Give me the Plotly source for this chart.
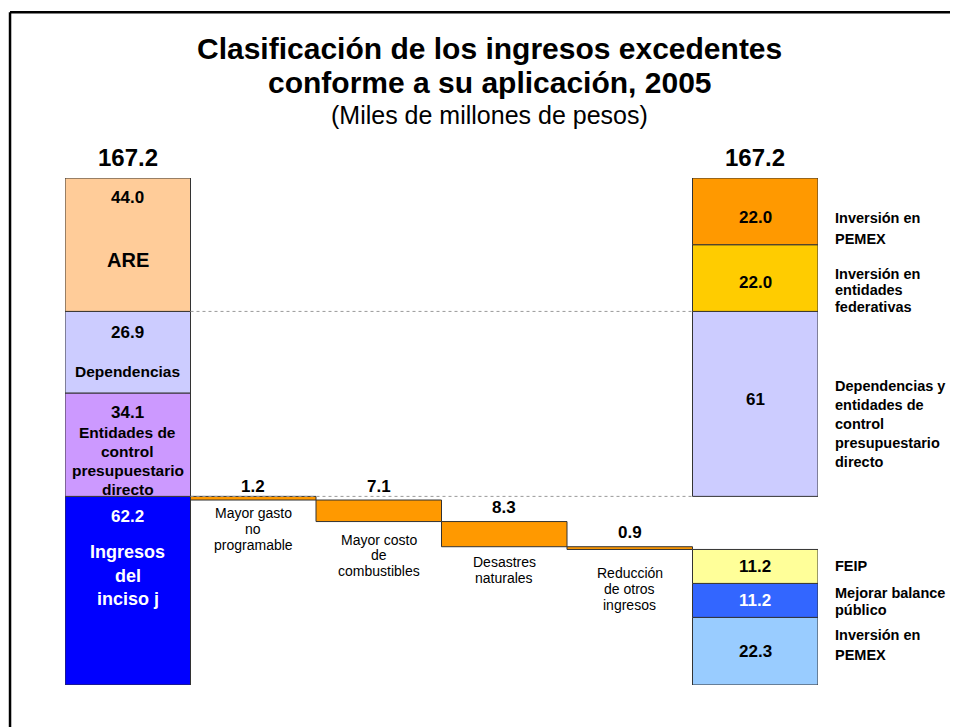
import plotly.graph_objects as go

# ---- data ----
left_names = ["Ingresos\ndel\ninciso j", "Entidades de\ncontrol\npresupuestario\ndirecto",
              "Dependencias", "ARE"]
left_values = [62.2, 34.1, 26.9, 44.0]
left_text = ["62.2", "34.1", "26.9", "44.0"]

step_names = ["Mayor gasto\nno\nprogramable", "Mayor costo\nde\ncombustibles",
              "Desastres\nnaturales", "Reducción\nde otros\ningresos"]
step_values = [1.2, 7.1, 8.3, 0.9]
step_text = ["1.2", "7.1", "8.3", "0.9"]

right_low_names = ["Inversión en\nPEMEX", "Mejorar balance\npúblico", "FEIP"]
right_low_values = [22.3, 11.2, 11.2]
right_low_text = ["22.3", "11.2", "11.2"]

right_up_names = ["Dependencias y\nentidades de\ncontrol\npresupuestario\ndirecto",
                  "Inversión en\nentidades\nfederativas", "Inversión en\nPEMEX"]
right_up_values = [61, 22.0, 22.0]
right_up_text = ["61", "22.0", "22.0"]

total_text = "167.2"

# ---- styles ----
FONT = "Liberation Sans, Arial, sans-serif"
left_colors = ['#0000FF', '#CC99FF', '#CCCCFF', '#FFCC99']
left_txt_colors = ['white', 'black', 'black', 'black']
step_color = '#FF9900'
right_low_colors = ['#99CCFF', '#3366FF', '#FFFF99']
right_low_txt_colors = ['black', 'white', 'black']
right_up_colors = ['#CCCCFF', '#FFCC00', '#FF9900']
OUTLINE = dict(color='#333333', width=1)


def cumbase(values, start=0.0):
    out, acc = [], start
    for v in values:
        out.append(acc)
        acc += v
    return out, acc


def add_lines(fig, x, y, text, dy0, spacing, size, color='black', bold=True,
              xanchor='center', xshift=0):
    for i, line in enumerate(text.split('\n')):
        t = f'<b>{line}</b>' if bold else line
        fig.add_annotation(x=x, y=y, xref='x', yref='y', text=t, showarrow=False,
                           xanchor=xanchor, yanchor='middle', xshift=xshift,
                           yshift=-(dy0 + i * spacing),
                           font=dict(size=size, color=color, family=FONT))


left_base, total = cumbase(left_values)
start = left_values[0]
step_base = []
acc = start
for v in step_values:
    acc -= v
    step_base.append(acc)
right_low_base, low_top = cumbase(right_low_values)
right_up_base, _ = cumbase(right_up_values, start)

fig = go.Figure()
fig.add_trace(go.Bar(x=[0] * 4, y=left_values, base=left_base, width=1,
                     marker=dict(color=left_colors, line=OUTLINE), hoverinfo='skip'))
fig.add_trace(go.Bar(x=[1, 2, 3, 4], y=step_values, base=step_base, width=1,
                     marker=dict(color=step_color, line=OUTLINE), hoverinfo='skip'))
fig.add_trace(go.Bar(x=[5] * 3, y=right_low_values, base=right_low_base, width=1,
                     marker=dict(color=right_low_colors, line=OUTLINE), hoverinfo='skip'))
fig.add_trace(go.Bar(x=[5] * 3, y=right_up_values, base=right_up_base, width=1,
                     marker=dict(color=right_up_colors, line=OUTLINE), hoverinfo='skip'))

# dotted guide lines
for yv in [start, left_base[3]]:
    fig.add_shape(type='line', x0=0.5, x1=4.5, y0=yv, y1=yv, xref='x', yref='y',
                  line=dict(color='#999999', width=1, dash='dot'), layer='above')

# left column labels (offsets measured from segment top, px)
left_val_dy = [20, 20, 21, 19]
left_name_dy = [56, 40, 60, 82]
left_name_sp = [23.5, 19, 19, 0]
left_name_size = [18, 15.5, 15.5, 20]
for i, v in enumerate(left_values):
    top = left_base[i] + v
    add_lines(fig, 0, top, left_text[i], left_val_dy[i], 0, 17, left_txt_colors[i])
    add_lines(fig, 0, top, left_names[i], left_name_dy[i], left_name_sp[i],
              left_name_size[i], left_txt_colors[i])

# step labels
step_name_dy = [13, 18, 15, 24]
for i, v in enumerate(step_values):
    top = step_base[i] + v
    add_lines(fig, i + 1, top, step_text[i], -14 if i else -10, 0, 17)
    add_lines(fig, i + 1, step_base[i], step_names[i], step_name_dy[i], 15.8, 14,
              bold=False)

# right column
low_name_dy = [-16, -7, 0]
low_name_sp = [20, 16.3, 0]
for i, v in enumerate(right_low_values):
    mid = right_low_base[i] + v / 2
    add_lines(fig, 5, mid, right_low_text[i], 0, 0, 17, right_low_txt_colors[i])
    add_lines(fig, 5, mid, right_low_names[i], low_name_dy[i], low_name_sp[i], 14.5,
              xanchor='left', xshift=78)

up_name_dy = [-17.5, -4, 6.5]
up_name_sp = [19, 16.3, 21]
up_val_dy = [-4, 4, 6]
for i, v in enumerate(right_up_values):
    mid = right_up_base[i] + v / 2
    add_lines(fig, 5, mid, right_up_text[i], up_val_dy[i], 0, 17)
    add_lines(fig, 5, mid, right_up_names[i], up_name_dy[i], up_name_sp[i], 14.5,
              xanchor='left', xshift=78)

# totals above columns
for xc in [0, 5]:
    fig.add_annotation(x=xc, y=total, xref='x', yref='y', text=f'<b>{total_text}</b>',
                       showarrow=False, yanchor='bottom', yshift=5,
                       font=dict(size=24, color='black', family=FONT))

# title
title_lines = [('<b>Clasificación de los ingresos excedentes</b>', 1.256, 30),
               ('<b>conforme a su aplicación, 2005</b>', 1.189, 30),
               ('(Miles de millones de pesos)', 1.124, 25)]
for txt, yp, sz in title_lines:
    fig.add_annotation(x=0.564, y=yp, xref='paper', yref='paper', showarrow=False,
                       xanchor='center', yanchor='middle', text=txt,
                       font=dict(size=sz, color='black', family=FONT))

# frame (left and top edges)
fig.add_shape(type='line', xref='paper', yref='paper', x0=-0.073, x1=-0.073,
              y0=1.327, y1=-0.1, line=dict(color='black', width=2.5))
fig.add_shape(type='line', xref='paper', yref='paper', x0=-0.073, x1=1.25,
              y0=1.327, y1=1.327, line=dict(color='black', width=2.5))

# page body has an 8px margin, so the figure is 8px smaller on each side
fig.update_layout(
    width=950, height=719,
    margin=dict(l=57, r=140, t=170, b=42),
    paper_bgcolor='white', plot_bgcolor='white',
    barmode='overlay', showlegend=False,
    font=dict(family=FONT, color='black'),
    xaxis=dict(range=[-0.5, 5.5], visible=False, fixedrange=True),
    yaxis=dict(range=[0, total], visible=False, fixedrange=True),
)

fig.write_html("out.html")
